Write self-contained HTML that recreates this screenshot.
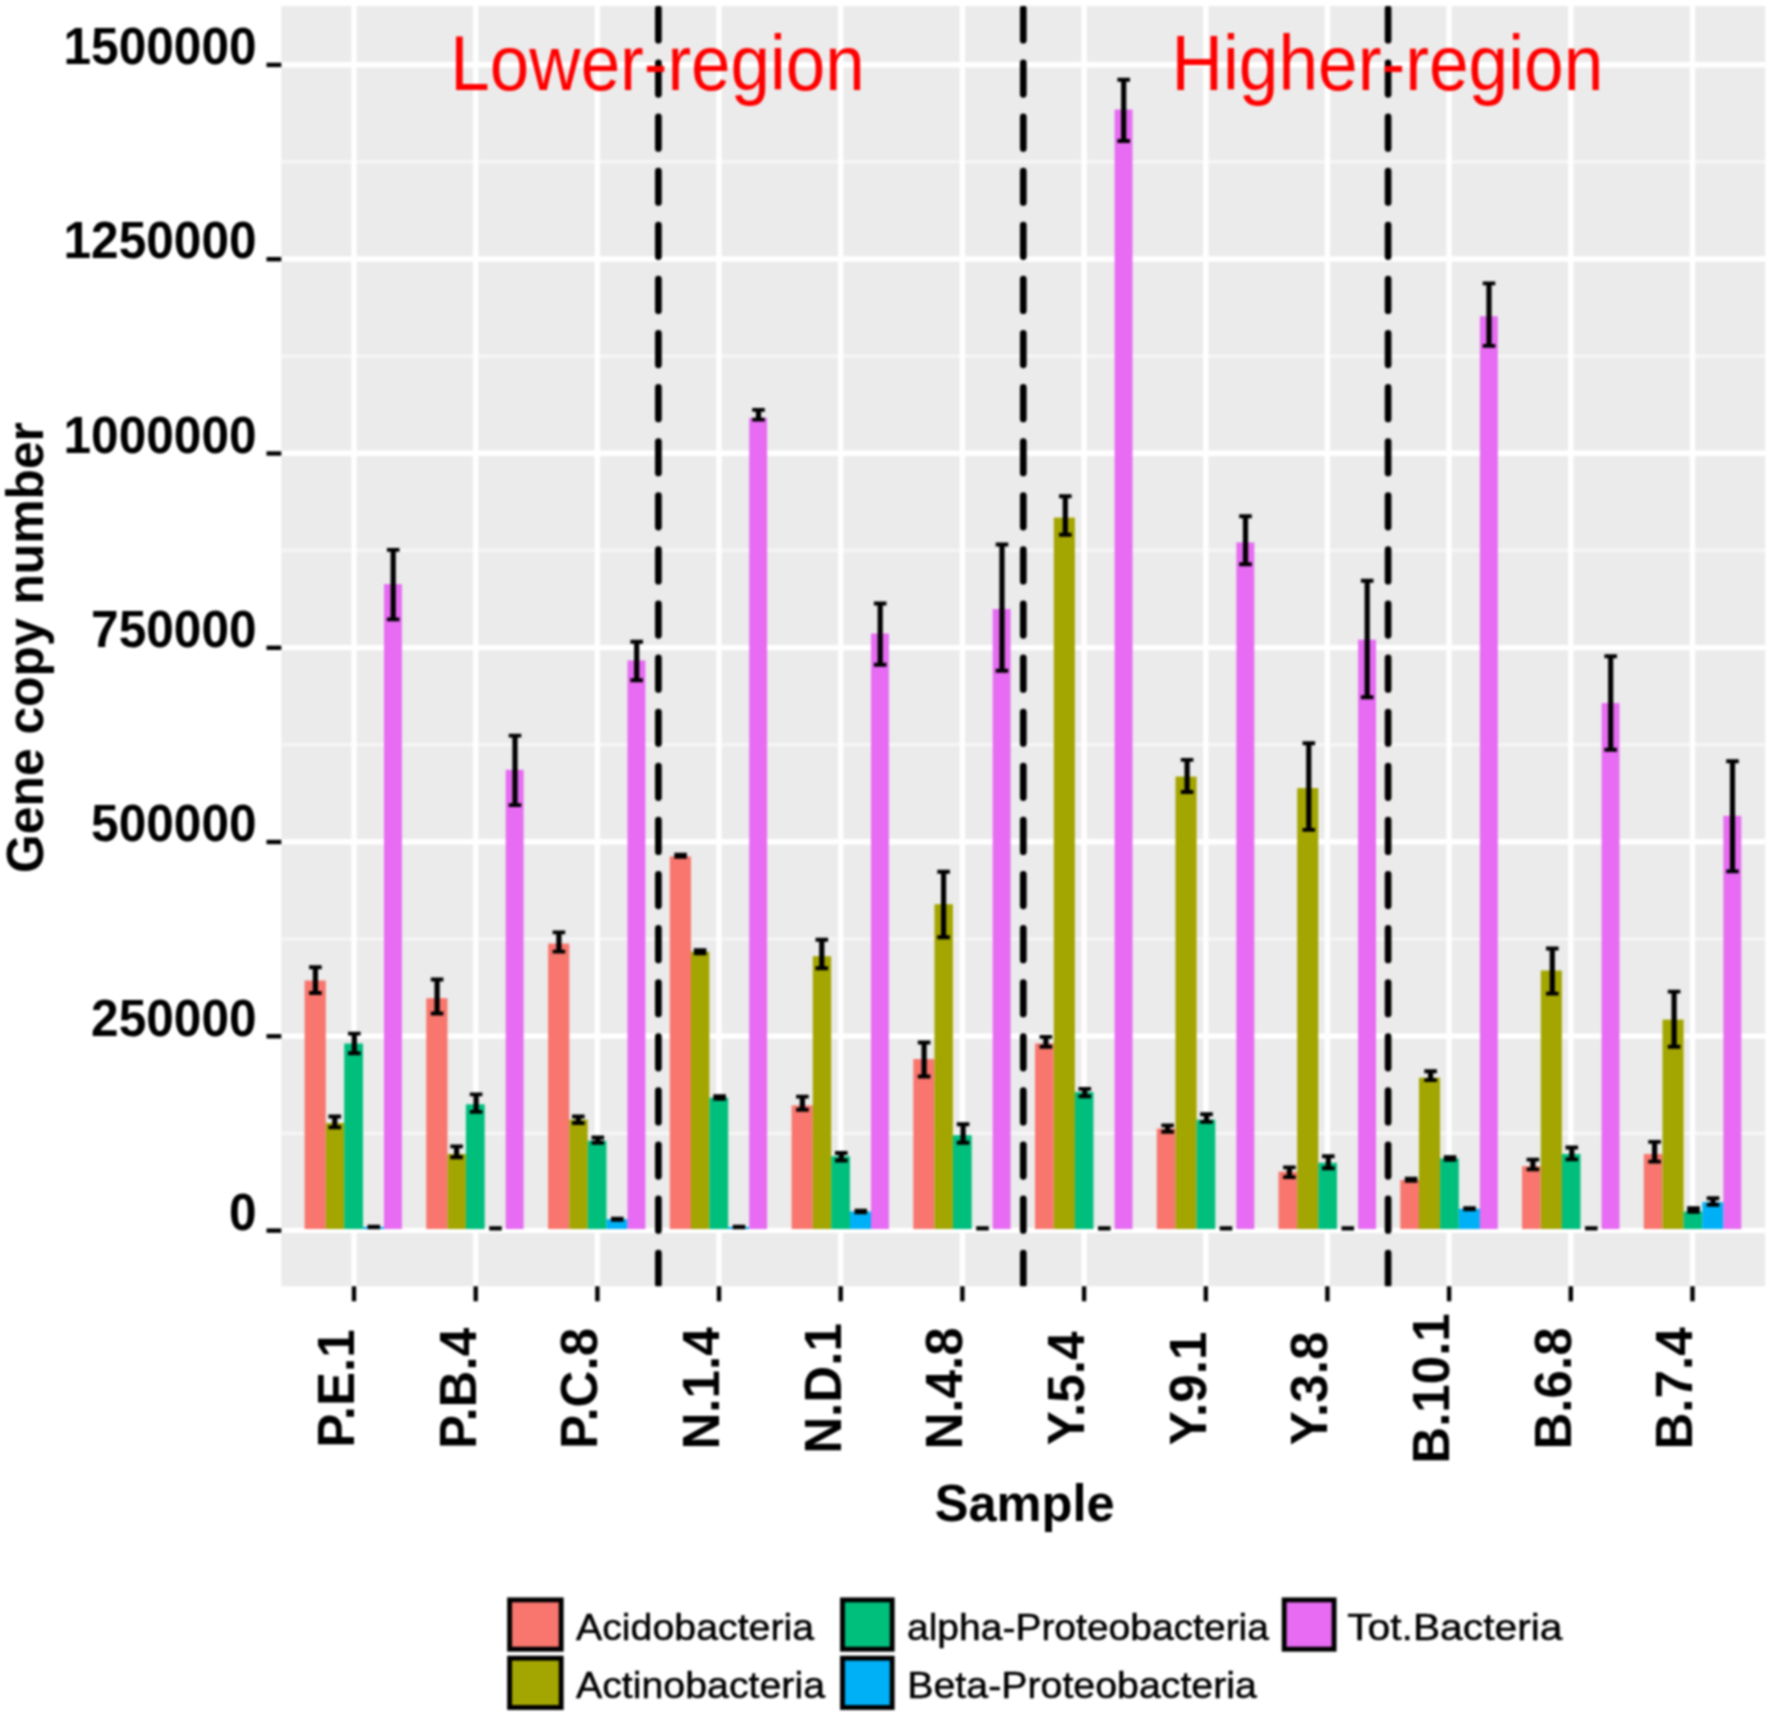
<!DOCTYPE html>
<html><head><meta charset="utf-8"><title>Gene copy number</title>
<style>html,body{margin:0;padding:0;background:#fff}svg{display:block;filter:blur(0.9px)}text{font-family:"Liberation Sans",sans-serif;fill:#000}.b{font-weight:bold}</style></head><body>
<svg width="1772" height="1719" viewBox="0 0 1772 1719">
<rect width="1772" height="1719" fill="#fff"/>
<defs><clipPath id="pc"><rect x="281.3" y="6.0" width="1483.9" height="1280.3"/></clipPath></defs>
<rect x="281.3" y="6.0" width="1483.9" height="1280.3" fill="#EBEBEB"/>
<g clip-path="url(#pc)">
<g stroke="#F6F6F6" stroke-width="3.2">
<line x1="281.3" x2="1765.2" y1="1133.3" y2="1133.3"/>
<line x1="281.3" x2="1765.2" y1="939.0" y2="939.0"/>
<line x1="281.3" x2="1765.2" y1="744.7" y2="744.7"/>
<line x1="281.3" x2="1765.2" y1="550.4" y2="550.4"/>
<line x1="281.3" x2="1765.2" y1="356.1" y2="356.1"/>
<line x1="281.3" x2="1765.2" y1="161.8" y2="161.8"/>
</g>
<g stroke="#fff" stroke-width="5.4">
<line x1="281.3" x2="1765.2" y1="1230.4" y2="1230.4"/>
<line x1="281.3" x2="1765.2" y1="1036.1" y2="1036.1"/>
<line x1="281.3" x2="1765.2" y1="841.8" y2="841.8"/>
<line x1="281.3" x2="1765.2" y1="647.6" y2="647.6"/>
<line x1="281.3" x2="1765.2" y1="453.3" y2="453.3"/>
<line x1="281.3" x2="1765.2" y1="259.0" y2="259.0"/>
<line x1="281.3" x2="1765.2" y1="64.7" y2="64.7"/>
<line x1="354.0" x2="354.0" y1="6.0" y2="1286.3"/>
<line x1="475.7" x2="475.7" y1="6.0" y2="1286.3"/>
<line x1="597.4" x2="597.4" y1="6.0" y2="1286.3"/>
<line x1="719.0" x2="719.0" y1="6.0" y2="1286.3"/>
<line x1="840.7" x2="840.7" y1="6.0" y2="1286.3"/>
<line x1="962.4" x2="962.4" y1="6.0" y2="1286.3"/>
<line x1="1084.1" x2="1084.1" y1="6.0" y2="1286.3"/>
<line x1="1205.8" x2="1205.8" y1="6.0" y2="1286.3"/>
<line x1="1327.4" x2="1327.4" y1="6.0" y2="1286.3"/>
<line x1="1449.1" x2="1449.1" y1="6.0" y2="1286.3"/>
<line x1="1570.8" x2="1570.8" y1="6.0" y2="1286.3"/>
<line x1="1692.5" x2="1692.5" y1="6.0" y2="1286.3"/>
</g>
<rect x="304.6" y="980.5" width="21.2" height="248.5" fill="#F8766D"/>
<rect x="325.8" y="1123.1" width="18.4" height="105.9" fill="#A3A500"/>
<rect x="344.2" y="1043.5" width="18.8" height="185.5" fill="#00BF7D"/>
<rect x="362.9" y="1227.0" width="21.0" height="2.0" fill="#00B0F6"/>
<rect x="384.0" y="584.1" width="17.9" height="644.9" fill="#E76BF3"/>
<rect x="426.3" y="998.2" width="21.2" height="230.8" fill="#F8766D"/>
<rect x="447.5" y="1154.0" width="18.4" height="75.0" fill="#A3A500"/>
<rect x="465.9" y="1104.3" width="18.8" height="124.7" fill="#00BF7D"/>
<rect x="505.7" y="769.8" width="17.9" height="459.2" fill="#E76BF3"/>
<rect x="548.1" y="943.6" width="21.2" height="285.4" fill="#F8766D"/>
<rect x="569.3" y="1119.7" width="18.4" height="109.3" fill="#A3A500"/>
<rect x="587.7" y="1140.7" width="18.8" height="88.3" fill="#00BF7D"/>
<rect x="606.5" y="1219.2" width="21.0" height="9.8" fill="#00B0F6"/>
<rect x="627.5" y="660.4" width="17.9" height="568.6" fill="#E76BF3"/>
<rect x="669.8" y="856.4" width="21.2" height="372.6" fill="#F8766D"/>
<rect x="691.0" y="951.7" width="18.4" height="277.3" fill="#A3A500"/>
<rect x="709.4" y="1097.6" width="18.8" height="131.4" fill="#00BF7D"/>
<rect x="728.2" y="1227.0" width="21.0" height="2.0" fill="#00B0F6"/>
<rect x="749.2" y="417.8" width="17.9" height="811.2" fill="#E76BF3"/>
<rect x="791.6" y="1105.4" width="21.2" height="123.6" fill="#F8766D"/>
<rect x="812.8" y="956.2" width="18.4" height="272.8" fill="#A3A500"/>
<rect x="831.2" y="1156.2" width="18.8" height="72.8" fill="#00BF7D"/>
<rect x="850.0" y="1211.5" width="21.0" height="17.5" fill="#00B0F6"/>
<rect x="871.0" y="633.5" width="17.9" height="595.5" fill="#E76BF3"/>
<rect x="913.3" y="1059.0" width="21.2" height="170.0" fill="#F8766D"/>
<rect x="934.5" y="904.2" width="18.4" height="324.8" fill="#A3A500"/>
<rect x="952.9" y="1135.2" width="18.8" height="93.8" fill="#00BF7D"/>
<rect x="992.7" y="609.0" width="17.9" height="620.0" fill="#E76BF3"/>
<rect x="1035.0" y="1043.5" width="18.7" height="185.5" fill="#F8766D"/>
<rect x="1053.8" y="517.6" width="21.1" height="711.4" fill="#A3A500"/>
<rect x="1074.8" y="1092.1" width="18.7" height="136.9" fill="#00BF7D"/>
<rect x="1114.6" y="109.5" width="17.9" height="1119.5" fill="#E76BF3"/>
<rect x="1156.8" y="1128.6" width="18.7" height="100.4" fill="#F8766D"/>
<rect x="1175.5" y="776.6" width="21.1" height="452.4" fill="#A3A500"/>
<rect x="1196.6" y="1119.7" width="18.7" height="109.3" fill="#00BF7D"/>
<rect x="1236.4" y="542.4" width="17.9" height="686.6" fill="#E76BF3"/>
<rect x="1278.5" y="1171.7" width="18.7" height="57.3" fill="#F8766D"/>
<rect x="1297.2" y="788.1" width="21.1" height="440.9" fill="#A3A500"/>
<rect x="1318.3" y="1162.8" width="18.7" height="66.2" fill="#00BF7D"/>
<rect x="1358.1" y="639.7" width="17.9" height="589.3" fill="#E76BF3"/>
<rect x="1400.3" y="1180.0" width="18.7" height="49.0" fill="#F8766D"/>
<rect x="1419.0" y="1077.7" width="21.1" height="151.3" fill="#A3A500"/>
<rect x="1440.1" y="1158.4" width="18.7" height="70.6" fill="#00BF7D"/>
<rect x="1458.8" y="1208.8" width="21.1" height="20.2" fill="#00B0F6"/>
<rect x="1479.9" y="316.2" width="17.9" height="912.8" fill="#E76BF3"/>
<rect x="1522.0" y="1166.2" width="18.7" height="62.8" fill="#F8766D"/>
<rect x="1540.8" y="970.5" width="21.1" height="258.5" fill="#A3A500"/>
<rect x="1561.8" y="1154.0" width="18.7" height="75.0" fill="#00BF7D"/>
<rect x="1601.6" y="703.1" width="17.9" height="525.9" fill="#E76BF3"/>
<rect x="1643.8" y="1154.0" width="18.7" height="75.0" fill="#F8766D"/>
<rect x="1662.5" y="1019.6" width="21.1" height="209.4" fill="#A3A500"/>
<rect x="1683.6" y="1211.5" width="18.7" height="17.5" fill="#00BF7D"/>
<rect x="1702.3" y="1202.2" width="21.1" height="26.8" fill="#00B0F6"/>
<rect x="1723.4" y="815.8" width="17.9" height="413.2" fill="#E76BF3"/>
<g stroke="#000" fill="none" stroke-linecap="butt">
<path d="M309.1 967.3H321.7M309.1 993.0H321.7" stroke-width="3.9"/>
<path d="M315.4 967.3V993.0" stroke-width="5.2"/>
<path d="M328.5 1116.5H341.1M328.5 1127.4H341.1" stroke-width="3.9"/>
<path d="M334.8 1116.5V1127.4" stroke-width="5.2"/>
<path d="M348.0 1033.6H360.6M348.0 1053.3H360.6" stroke-width="3.9"/>
<path d="M354.3 1033.6V1053.3" stroke-width="5.2"/>
<path d="M367.5 1227.0H380.1" stroke-width="4.4"/>
<path d="M386.9 549.9H399.5M386.9 619.4H399.5" stroke-width="3.9"/>
<path d="M393.2 549.9V619.4" stroke-width="5.2"/>
<path d="M430.8 979.5H443.4M430.8 1013.5H443.4" stroke-width="3.9"/>
<path d="M437.1 979.5V1013.5" stroke-width="5.2"/>
<path d="M450.3 1146.4H462.9M450.3 1157.2H462.9" stroke-width="3.9"/>
<path d="M456.6 1146.4V1157.2" stroke-width="5.2"/>
<path d="M469.8 1094.4H482.4M469.8 1111.9H482.4" stroke-width="3.9"/>
<path d="M476.1 1094.4V1111.9" stroke-width="5.2"/>
<path d="M489.2 1228.4H501.8" stroke-width="4.4"/>
<path d="M508.7 735.6H521.3M508.7 805.1H521.3" stroke-width="3.9"/>
<path d="M515.0 735.6V805.1" stroke-width="5.2"/>
<path d="M552.6 932.4H565.2M552.6 951.6H565.2" stroke-width="3.9"/>
<path d="M558.9 932.4V951.6" stroke-width="5.2"/>
<path d="M572.0 1116.5H584.6M572.0 1123.0H584.6" stroke-width="3.9"/>
<path d="M578.3 1116.5V1123.0" stroke-width="5.2"/>
<path d="M591.5 1137.5H604.1M591.5 1142.8H604.1" stroke-width="3.9"/>
<path d="M597.8 1137.5V1142.8" stroke-width="5.2"/>
<path d="M611.0 1218.7H623.6M611.0 1219.8H623.6" stroke-width="3.9"/>
<path d="M617.3 1218.7V1219.8" stroke-width="5.2"/>
<path d="M630.4 641.7H643.0M630.4 680.2H643.0" stroke-width="3.9"/>
<path d="M636.7 641.7V680.2" stroke-width="5.2"/>
<path d="M674.3 854.6H686.9M674.3 856.8H686.9" stroke-width="3.9"/>
<path d="M680.6 854.6V856.8" stroke-width="5.2"/>
<path d="M693.8 950.2H706.4M693.8 953.3H706.4" stroke-width="3.9"/>
<path d="M700.1 950.2V953.3" stroke-width="5.2"/>
<path d="M713.3 1096.2H725.9M713.3 1098.8H725.9" stroke-width="3.9"/>
<path d="M719.6 1096.2V1098.8" stroke-width="5.2"/>
<path d="M732.7 1227.0H745.3" stroke-width="4.4"/>
<path d="M752.2 409.9H764.8M752.2 419.6H764.8" stroke-width="3.9"/>
<path d="M758.5 409.9V419.6" stroke-width="5.2"/>
<path d="M796.1 1096.6H808.7M796.1 1109.7H808.7" stroke-width="3.9"/>
<path d="M802.4 1096.6V1109.7" stroke-width="5.2"/>
<path d="M815.5 939.7H828.1M815.5 968.2H828.1" stroke-width="3.9"/>
<path d="M821.8 939.7V968.2" stroke-width="5.2"/>
<path d="M835.0 1153.0H847.6M835.0 1160.5H847.6" stroke-width="3.9"/>
<path d="M841.3 1153.0V1160.5" stroke-width="5.2"/>
<path d="M854.5 1210.7H867.1M854.5 1212.3H867.1" stroke-width="3.9"/>
<path d="M860.8 1210.7V1212.3" stroke-width="5.2"/>
<path d="M873.9 603.5H886.5M873.9 664.7H886.5" stroke-width="3.9"/>
<path d="M880.2 603.5V664.7" stroke-width="5.2"/>
<path d="M917.8 1042.5H930.4M917.8 1076.5H930.4" stroke-width="3.9"/>
<path d="M924.1 1042.5V1076.5" stroke-width="5.2"/>
<path d="M937.3 871.7H949.9M937.3 937.3H949.9" stroke-width="3.9"/>
<path d="M943.6 871.7V937.3" stroke-width="5.2"/>
<path d="M956.8 1124.2H969.4M956.8 1142.8H969.4" stroke-width="3.9"/>
<path d="M963.1 1124.2V1142.8" stroke-width="5.2"/>
<path d="M976.2 1228.4H988.8" stroke-width="4.4"/>
<path d="M995.7 544.5H1008.3M995.7 670.7H1008.3" stroke-width="3.9"/>
<path d="M1002.0 544.5V670.7" stroke-width="5.2"/>
<path d="M1039.6 1036.9H1052.2M1039.6 1046.7H1052.2" stroke-width="3.9"/>
<path d="M1045.9 1036.9V1046.7" stroke-width="5.2"/>
<path d="M1059.0 496.2H1071.6M1059.0 534.8H1071.6" stroke-width="3.9"/>
<path d="M1065.3 496.2V534.8" stroke-width="5.2"/>
<path d="M1078.5 1088.9H1091.1M1078.5 1096.4H1091.1" stroke-width="3.9"/>
<path d="M1084.8 1088.9V1096.4" stroke-width="5.2"/>
<path d="M1098.0 1228.4H1110.6" stroke-width="4.4"/>
<path d="M1117.4 79.7H1130.0M1117.4 141.0H1130.0" stroke-width="3.9"/>
<path d="M1123.7 79.7V141.0" stroke-width="5.2"/>
<path d="M1161.3 1125.4H1173.9M1161.3 1131.8H1173.9" stroke-width="3.9"/>
<path d="M1167.6 1125.4V1131.8" stroke-width="5.2"/>
<path d="M1180.8 759.9H1193.4M1180.8 792.0H1193.4" stroke-width="3.9"/>
<path d="M1187.1 759.9V792.0" stroke-width="5.2"/>
<path d="M1200.2 1114.3H1212.8M1200.2 1121.9H1212.8" stroke-width="3.9"/>
<path d="M1206.5 1114.3V1121.9" stroke-width="5.2"/>
<path d="M1219.7 1228.4H1232.3" stroke-width="4.4"/>
<path d="M1239.2 516.2H1251.8M1239.2 564.2H1251.8" stroke-width="3.9"/>
<path d="M1245.5 516.2V564.2" stroke-width="5.2"/>
<path d="M1283.1 1167.4H1295.7M1283.1 1177.1H1295.7" stroke-width="3.9"/>
<path d="M1289.4 1167.4V1177.1" stroke-width="5.2"/>
<path d="M1302.5 743.2H1315.1M1302.5 829.9H1315.1" stroke-width="3.9"/>
<path d="M1308.8 743.2V829.9" stroke-width="5.2"/>
<path d="M1322.0 1156.3H1334.6M1322.0 1168.3H1334.6" stroke-width="3.9"/>
<path d="M1328.3 1156.3V1168.3" stroke-width="5.2"/>
<path d="M1341.5 1228.4H1354.1" stroke-width="4.4"/>
<path d="M1360.9 580.7H1373.5M1360.9 697.3H1373.5" stroke-width="3.9"/>
<path d="M1367.2 580.7V697.3" stroke-width="5.2"/>
<path d="M1404.8 1178.7H1417.4M1404.8 1180.8H1417.4" stroke-width="3.9"/>
<path d="M1411.1 1178.7V1180.8" stroke-width="5.2"/>
<path d="M1424.3 1071.2H1436.9M1424.3 1080.1H1436.9" stroke-width="3.9"/>
<path d="M1430.6 1071.2V1080.1" stroke-width="5.2"/>
<path d="M1443.8 1157.2H1456.3M1443.8 1159.8H1456.3" stroke-width="3.9"/>
<path d="M1450.0 1157.2V1159.8" stroke-width="5.2"/>
<path d="M1463.2 1208.2H1475.8M1463.2 1209.3H1475.8" stroke-width="3.9"/>
<path d="M1469.5 1208.2V1209.3" stroke-width="5.2"/>
<path d="M1482.7 283.4H1495.3M1482.7 345.9H1495.3" stroke-width="3.9"/>
<path d="M1489.0 283.4V345.9" stroke-width="5.2"/>
<path d="M1526.6 1159.6H1539.2M1526.6 1169.4H1539.2" stroke-width="3.9"/>
<path d="M1532.9 1159.6V1169.4" stroke-width="5.2"/>
<path d="M1546.0 948.5H1558.6M1546.0 993.6H1558.6" stroke-width="3.9"/>
<path d="M1552.3 948.5V993.6" stroke-width="5.2"/>
<path d="M1565.5 1147.5H1578.1M1565.5 1159.4H1578.1" stroke-width="3.9"/>
<path d="M1571.8 1147.5V1159.4" stroke-width="5.2"/>
<path d="M1585.0 1228.4H1597.6" stroke-width="4.4"/>
<path d="M1604.4 656.2H1617.0M1604.4 749.8H1617.0" stroke-width="3.9"/>
<path d="M1610.7 656.2V749.8" stroke-width="5.2"/>
<path d="M1648.3 1141.9H1660.9M1648.3 1161.6H1660.9" stroke-width="3.9"/>
<path d="M1654.6 1141.9V1161.6" stroke-width="5.2"/>
<path d="M1667.8 991.6H1680.4M1667.8 1046.7H1680.4" stroke-width="3.9"/>
<path d="M1674.1 991.6V1046.7" stroke-width="5.2"/>
<path d="M1687.2 1208.2H1699.8M1687.2 1211.8H1699.8" stroke-width="3.9"/>
<path d="M1693.5 1208.2V1211.8" stroke-width="5.2"/>
<path d="M1706.7 1198.3H1719.3M1706.7 1204.8H1719.3" stroke-width="3.9"/>
<path d="M1713.0 1198.3V1204.8" stroke-width="5.2"/>
<path d="M1726.2 761.2H1738.8M1726.2 871.4H1738.8" stroke-width="3.9"/>
<path d="M1732.5 761.2V871.4" stroke-width="5.2"/>
</g>
<line x1="658.4" x2="658.4" y1="1284.5" y2="-34.0" stroke="#000" stroke-width="6.7" stroke-linecap="round" stroke-dasharray="31.5 22.6"/>
<line x1="1023.3" x2="1023.3" y1="1284.5" y2="-34.0" stroke="#000" stroke-width="6.7" stroke-linecap="round" stroke-dasharray="31.5 22.6"/>
<line x1="1388.1" x2="1388.1" y1="1284.5" y2="-34.0" stroke="#000" stroke-width="6.7" stroke-linecap="round" stroke-dasharray="31.5 22.6"/>
</g>
<text x="657.6" y="90.2" text-anchor="middle" font-size="78" style="fill:#FF0000" textLength="414.5" lengthAdjust="spacingAndGlyphs">Lower-region</text>
<text x="1387.4" y="90.2" text-anchor="middle" font-size="78" style="fill:#FF0000" textLength="432" lengthAdjust="spacingAndGlyphs">Higher-region</text>
<g stroke="#000" stroke-width="4.4">
<line x1="266.5" x2="281.3" y1="1230.6" y2="1230.6"/>
<line x1="266.5" x2="281.3" y1="1036.3" y2="1036.3"/>
<line x1="266.5" x2="281.3" y1="842.0" y2="842.0"/>
<line x1="266.5" x2="281.3" y1="647.8" y2="647.8"/>
<line x1="266.5" x2="281.3" y1="453.5" y2="453.5"/>
<line x1="266.5" x2="281.3" y1="259.2" y2="259.2"/>
<line x1="266.5" x2="281.3" y1="64.9" y2="64.9"/>
<line x1="354.0" x2="354.0" y1="1286.3" y2="1301.3"/>
<line x1="475.7" x2="475.7" y1="1286.3" y2="1301.3"/>
<line x1="597.4" x2="597.4" y1="1286.3" y2="1301.3"/>
<line x1="719.0" x2="719.0" y1="1286.3" y2="1301.3"/>
<line x1="840.7" x2="840.7" y1="1286.3" y2="1301.3"/>
<line x1="962.4" x2="962.4" y1="1286.3" y2="1301.3"/>
<line x1="1084.1" x2="1084.1" y1="1286.3" y2="1301.3"/>
<line x1="1205.8" x2="1205.8" y1="1286.3" y2="1301.3"/>
<line x1="1327.4" x2="1327.4" y1="1286.3" y2="1301.3"/>
<line x1="1449.1" x2="1449.1" y1="1286.3" y2="1301.3"/>
<line x1="1570.8" x2="1570.8" y1="1286.3" y2="1301.3"/>
<line x1="1692.5" x2="1692.5" y1="1286.3" y2="1301.3"/>
</g>
<text class="b" transform="translate(256.6 1229.8) scale(0.972 1)" text-anchor="end" font-size="51.03">0</text>
<text class="b" transform="translate(256.6 1035.5) scale(0.972 1)" text-anchor="end" font-size="51.03">250000</text>
<text class="b" transform="translate(256.6 841.2) scale(0.972 1)" text-anchor="end" font-size="51.03">500000</text>
<text class="b" transform="translate(256.6 647.0) scale(0.972 1)" text-anchor="end" font-size="51.03">750000</text>
<text class="b" transform="translate(256.6 452.7) scale(0.972 1)" text-anchor="end" font-size="51.03">1000000</text>
<text class="b" transform="translate(256.6 258.4) scale(0.972 1)" text-anchor="end" font-size="51.03">1250000</text>
<text class="b" transform="translate(256.6 64.1) scale(0.972 1)" text-anchor="end" font-size="51.03">1500000</text>
<text class="b" transform="translate(353.8 1388.5) rotate(-90) scale(0.972 1)" text-anchor="middle" font-size="52.57">P.E.1</text>
<text class="b" transform="translate(475.5 1388.5) rotate(-90) scale(0.972 1)" text-anchor="middle" font-size="52.57">P.B.4</text>
<text class="b" transform="translate(597.2 1388.5) rotate(-90) scale(0.972 1)" text-anchor="middle" font-size="52.57">P.C.8</text>
<text class="b" transform="translate(718.8 1388.5) rotate(-90) scale(0.972 1)" text-anchor="middle" font-size="52.57">N.1.4</text>
<text class="b" transform="translate(840.5 1388.5) rotate(-90) scale(0.972 1)" text-anchor="middle" font-size="52.57">N.D.1</text>
<text class="b" transform="translate(962.2 1388.5) rotate(-90) scale(0.972 1)" text-anchor="middle" font-size="52.57">N.4.8</text>
<text class="b" transform="translate(1083.9 1388.5) rotate(-90) scale(0.972 1)" text-anchor="middle" font-size="52.57">Y.5.4</text>
<text class="b" transform="translate(1205.6 1388.5) rotate(-90) scale(0.972 1)" text-anchor="middle" font-size="52.57">Y.9.1</text>
<text class="b" transform="translate(1327.2 1388.5) rotate(-90) scale(0.972 1)" text-anchor="middle" font-size="52.57">Y.3.8</text>
<text class="b" transform="translate(1448.9 1388.5) rotate(-90) scale(0.972 1)" text-anchor="middle" font-size="52.57">B.10.1</text>
<text class="b" transform="translate(1570.6 1388.5) rotate(-90) scale(0.972 1)" text-anchor="middle" font-size="52.57">B.6.8</text>
<text class="b" transform="translate(1692.3 1388.5) rotate(-90) scale(0.972 1)" text-anchor="middle" font-size="52.57">B.7.4</text>
<text class="b" transform="translate(1024.7 1520.8) scale(0.972 1)" text-anchor="middle" font-size="52.06">Sample</text>
<text class="b" transform="translate(43.0 647.5) rotate(-90) scale(0.972 1)" text-anchor="middle" font-size="51.23">Gene copy number</text>
<rect x="509.6" y="1599.9" width="51.6" height="49.3" fill="#F8766D" stroke="#000" stroke-width="4.9"/>
<text transform="translate(576.0 1639.8) scale(1.042 1)" text-anchor="start" font-size="37.72" stroke="#000" stroke-width="0.5">Acidobacteria</text>
<rect x="509.6" y="1658.2" width="51.6" height="49.3" fill="#A3A500" stroke="#000" stroke-width="4.9"/>
<text transform="translate(576.0 1698.2) scale(1.042 1)" text-anchor="start" font-size="37.72" stroke="#000" stroke-width="0.5">Actinobacteria</text>
<rect x="842.5" y="1599.9" width="49.7" height="49.3" fill="#00BF7D" stroke="#000" stroke-width="4.9"/>
<text transform="translate(907.0 1639.8) scale(1.0336640000000001 1)" text-anchor="start" font-size="37.72" stroke="#000" stroke-width="0.5">alpha-Proteobacteria</text>
<rect x="842.5" y="1658.2" width="49.7" height="49.3" fill="#00B0F6" stroke="#000" stroke-width="4.9"/>
<text transform="translate(907.3 1698.2) scale(1.042 1)" text-anchor="start" font-size="37.72" stroke="#000" stroke-width="0.5">Beta-Proteobacteria</text>
<rect x="1284.2" y="1599.9" width="49.9" height="49.3" fill="#E76BF3" stroke="#000" stroke-width="4.9"/>
<text transform="translate(1347.2 1639.8) scale(1.081596 1)" text-anchor="start" font-size="37.72" stroke="#000" stroke-width="0.5">Tot.Bacteria</text>
</svg></body></html>
